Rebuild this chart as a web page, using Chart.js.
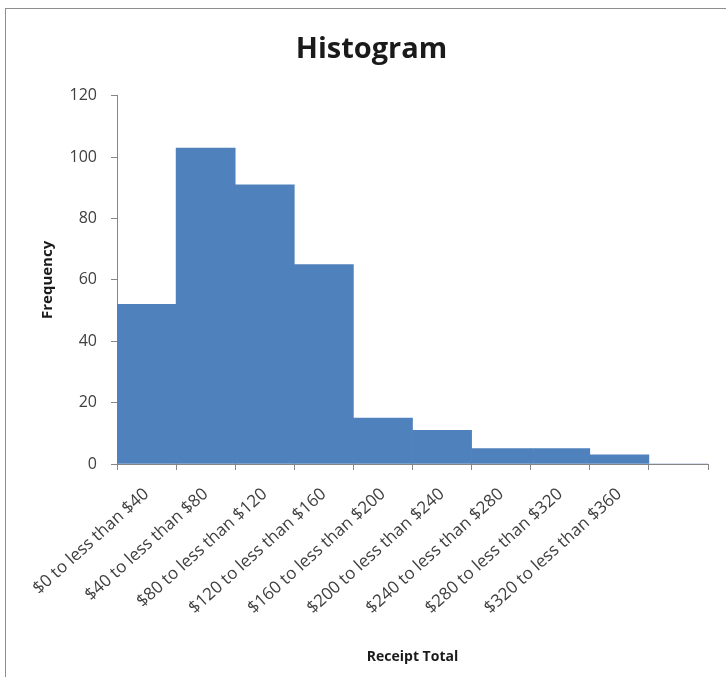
<!DOCTYPE html>
<html lang="en">
<head>
  <meta charset="UTF-8" />
  <title>Histogram</title>
  <script src="https://cdn.jsdelivr.net/npm/chart.js"></script>
  <style>
    html, body { margin: 0; padding: 0; background: #fff; overflow: hidden; }
    #frame { position: absolute; left: 5px; top: 8px; width: 800px; height: 800px; border: 1px solid #8e8e8e; }
    #wrap { position: absolute; left: 0; top: 0; width: 726px; height: 677px; }
  </style>
</head>
<body>
  <div id="frame"></div>
  <div id="wrap"><canvas id="histChart" width="726" height="677"></canvas></div>

  <script>
    // Bins and counts (last slot is empty)
    const bins = ['$0 to less than $40', '$40 to less than $80', '$80 to less than $120',
                  '$120 to less than $160', '$160 to less than $200', '$200 to less than $240',
                  '$240 to less than $280', '$280 to less than $320', '$320 to less than $360', ''];
    const frequency = [52, 103, 91, 65, 15, 11, 5, 5, 3, 0];
    const yTicks = [0, 20, 40, 60, 80, 100, 120];

    const FONT = '"Open Sans", sans-serif';

    new Chart(document.getElementById('histChart'), {
      type: 'bar',
      data: {
        labels: bins,
        datasets: [{
          label: 'Frequency',
          data: frequency,
          backgroundColor: '#4f81bd',
          borderWidth: 0,
          barPercentage: 1.0,
          categoryPercentage: 1.0
        }]
      },
      options: {
        responsive: false,
        animation: false,
        layout: { padding: { left: 35, right: 18, top: 0, bottom: 10 } },
        plugins: {
          legend: { display: false },
          tooltip: { enabled: false },
          title: {
            display: true,
            text: 'Histogram',
            color: '#1a1a1a',
            font: { family: FONT, size: 29, weight: 'bold' },
            padding: { top: 32, bottom: 29 }
          }
        },
        scales: {
          x: {
            offset: true,
            grid: { offset: true, drawOnChartArea: false, drawTicks: true, tickLength: 6, color: '#868686' },
            border: { color: '#868686', width: 1 },
            ticks: {
              autoSkip: false, minRotation: 42, maxRotation: 42,
              color: '#404040', padding: 14,
              font: { family: FONT, size: 17 }
            },
            title: {
              display: true, text: 'Receipt Total', color: '#1a1a1a',
              font: { family: FONT, size: 14, weight: 'bold' }, padding: { top: 4, bottom: 2 }
            },
            afterFit: (scale) => { scale.height = 203; }
          },
          y: {
            min: 0, max: 120,
            afterBuildTicks: (scale) => { scale.ticks = yTicks.map(v => ({ value: v })); },
            grid: { drawOnChartArea: false, drawTicks: true, tickLength: 6, color: '#868686' },
            border: { color: '#868686', width: 1 },
            ticks: { color: '#404040', padding: 14, font: { family: FONT, size: 16 } },
            title: {
              display: true, text: 'Frequency', color: '#1a1a1a',
              font: { family: FONT, size: 15, weight: 'bold' }, padding: { top: 4, bottom: 4 }
            },
            afterFit: (scale) => { scale.width = 82; }
          }
        }
      }
    });
  </script>
</body>
</html>
